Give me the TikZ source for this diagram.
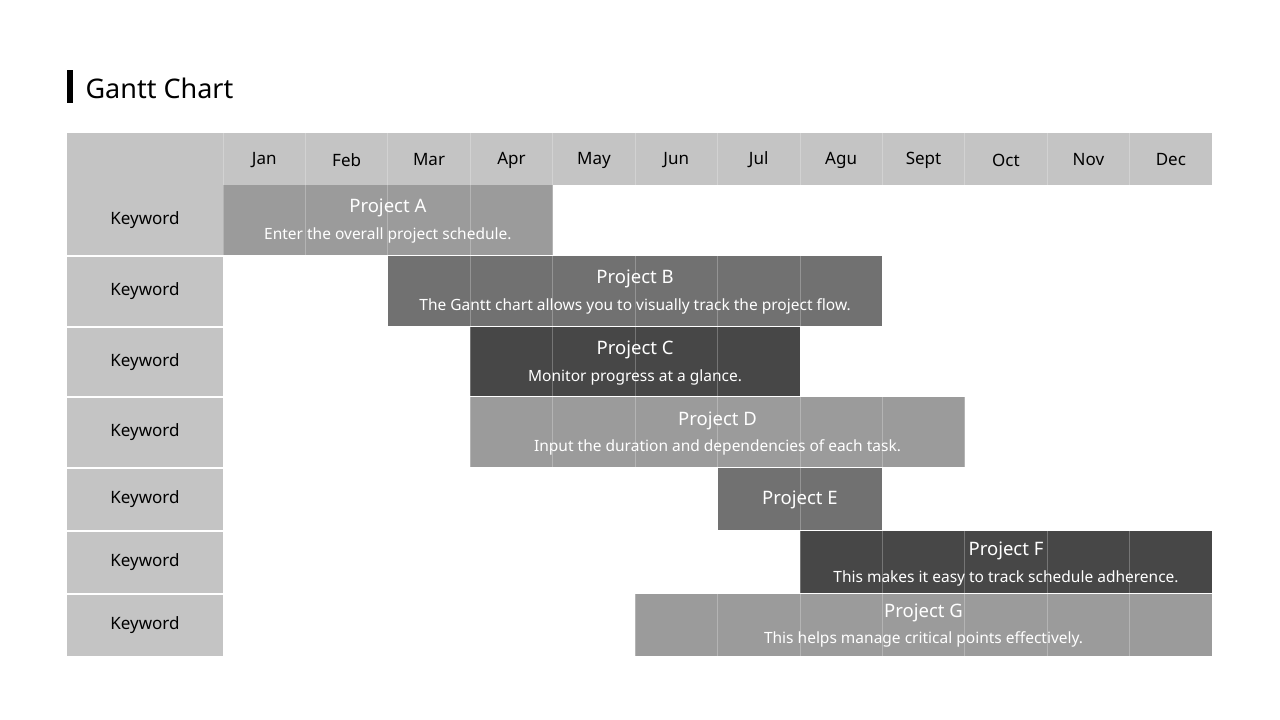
\documentclass[tikz,border=0pt]{standalone}
\usepackage{fontspec}
\setmainfont{Noto Sans}
\begin{document}
\begin{tikzpicture}[x=1pt,y=-1pt,
  hdr/.style={font=\fontsize{17}{20}\selectfont, text=black},
  ttl/.style={font=\fontsize{18.5}{22}\selectfont, text=white},
  dsc/.style={font=\fontsize{15.5}{18}\selectfont, text=white},
  grid/.style={white, opacity=0.25, line width=0.8pt}]
\definecolor{cL}{HTML}{C4C4C4}
\definecolor{c1}{HTML}{9B9B9B}
\definecolor{c2}{HTML}{717171}
\definecolor{c3}{HTML}{474747}
\useasboundingbox (0,0) rectangle (1280,720);
\fill[white] (0,0) rectangle (1280,720);
\fill[black] (67,70) rectangle (73,103);
\node[anchor=west, font=\fontsize{27}{32}\selectfont] (title) at (82,88) {Gantt Chart};
% header
\fill[cL] (67,133) rectangle (1212,185);
\foreach \m [count=\i] in {Jan,Feb,Mar,Apr,May,Jun,Jul,Agu,Sept,Oct,Nov,Dec}{
  \node[hdr] (m\i) at ({223+82.42*(\i-0.5)},160) {\m};
}
% keyword column
\foreach \a/\b [count=\i] in {185/255,257/326,328/396,398/467,469/530,532/593,595/656}{
  \fill[cL] (67,\a) rectangle (223,\b);
  \node[hdr] (k\i) at (145,{(\a+\b)/2}) {Keyword};
}
% bars
\def\mx#1{223+82.42*#1}
\fill[c1] ({\mx{0}},185) rectangle ({\mx{4}},255);
\fill[c2] ({\mx{2}},256) rectangle ({\mx{8}},326);
\fill[c3] ({\mx{3}},327) rectangle ({\mx{7}},396);
\fill[c1] ({\mx{3}},397) rectangle ({\mx{9}},467);
\fill[c2] ({\mx{6}},468) rectangle ({\mx{8}},530);
\fill[c3] ({\mx{7}},531) rectangle ({\mx{12}},593);
\fill[c1] ({\mx{5}},594) rectangle ({\mx{12}},656);
% grid lines
\foreach \i in {0,...,11}{ \draw[grid] ({\mx{\i}},133) -- ({\mx{\i}},656); }
\draw[white,line width=1pt] (67,256) -- (223,256) (67,327) -- (223,327) (67,397) -- (223,397) (67,468) -- (223,468) (67,531) -- (223,531) (67,594) -- (223,594);
% labels
\node[ttl] (pa) at ({\mx{2}},208) {Project A};
\node[dsc] (da) at ({\mx{2}},235) {Enter the overall project schedule.};
\node[ttl] (pb) at ({\mx{5}},279) {Project B};
\node[dsc] (db) at ({\mx{5}},306) {The Gantt chart allows you to visually track the project flow.};
\node[ttl] (pc) at ({\mx{5}},350) {Project C};
\node[dsc] (dc) at ({\mx{5}},377) {Monitor progress at a glance.};
\node[ttl] (pd) at ({\mx{6}},421) {Project D};
\node[dsc] (dd) at ({\mx{6}},447) {Input the duration and dependencies of each task.};
\node[ttl] (pe) at ({\mx{7}},500) {Project E};
\node[ttl] (pf) at ({\mx{9.5}},551) {Project F};
\node[dsc] (df) at ({\mx{9.5}},578) {This makes it easy to track schedule adherence.};
\node[ttl] (pg) at ({\mx{8.5}},613) {Project G};
\node[dsc] (dg) at ({\mx{8.5}},639) {This helps manage critical points effectively.};
\end{tikzpicture}
\end{document}
